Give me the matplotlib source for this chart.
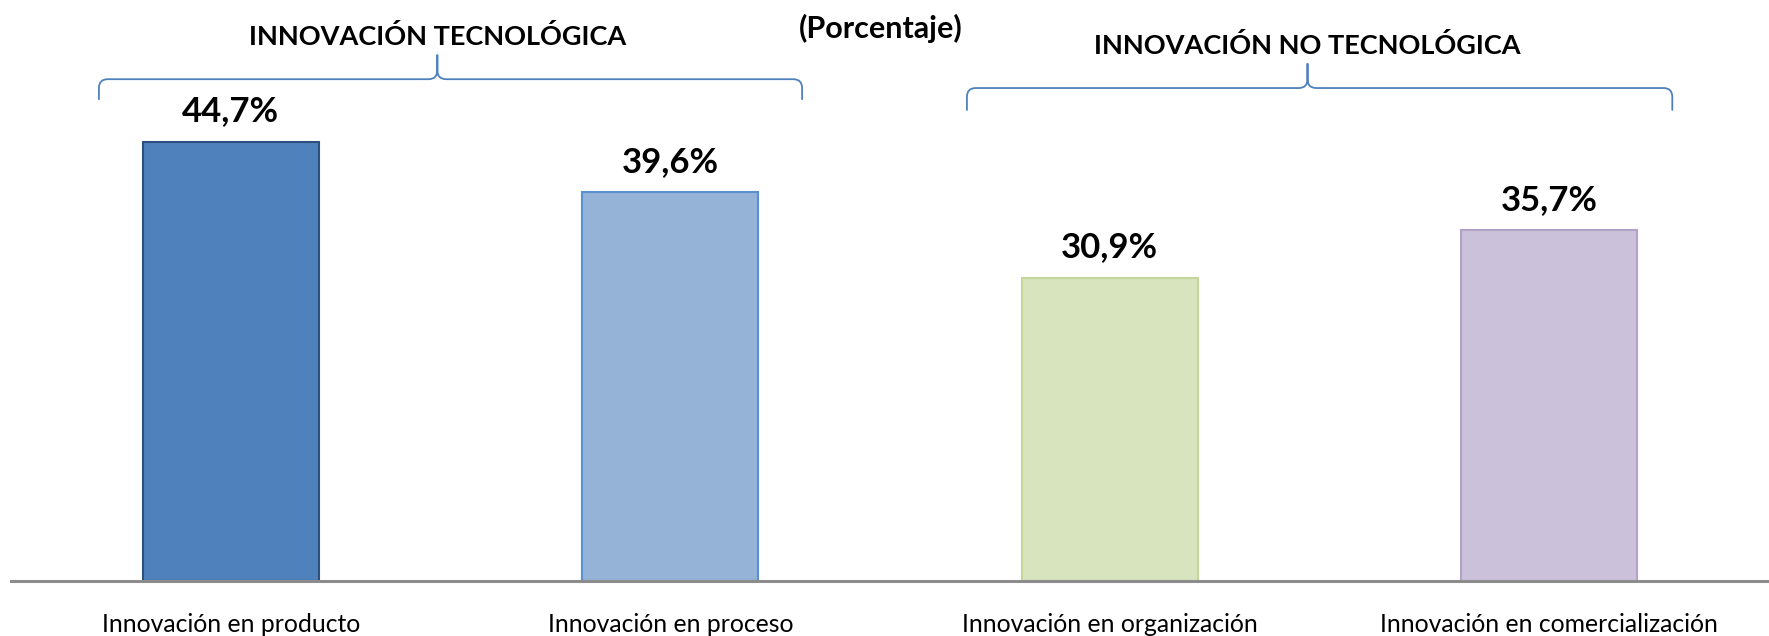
import numpy as np
import matplotlib
matplotlib.use("Agg")
import matplotlib.pyplot as plt
from matplotlib.path import Path
from matplotlib.patches import PathPatch

plt.rcParams['font.family'] = ['Lato', 'DejaVu Sans']

categorias = ["Innovación en producto", "Innovación en proceso",
              "Innovación en organización", "Innovación en comercialización"]
valores = [44.7, 39.6, 30.9, 35.7]
etiquetas = ["44,7%", "39,6%", "30,9%", "35,7%"]
relleno = ["#4F81BD", "#95B3D7", "#D7E4BD", "#CCC1DA"]
borde = ["#2C5080", "#5B8FD0", "#C3D69B", "#B3A2C7"]

grupos = ["INNOVACIÓN TECNOLÓGICA", "INNOVACIÓN NO TECNOLÓGICA"]

W, H = 1769, 636
fig = plt.figure(figsize=(W / 100, H / 100), dpi=100)
base = 581
escala = 9.82  # px per percentage point
ax = fig.add_axes([11 / W, (H - base) / H, 1 - 11 / W, base / H])
ax.set_xlim(-0.5, 3.5)
ax.set_ylim(0, base / escala)

x = np.arange(len(categorias))
ax.bar(x, valores, width=0.4, color=relleno, edgecolor=borde, linewidth=1.5, zorder=2)

for xi, v, t in zip(x, valores, etiquetas):
    ax.annotate(t, (xi, v), xytext=(0, 22), textcoords="offset points",
                ha="center", va="center", fontsize=25, fontweight="bold")

for s in ["top", "right", "left"]:
    ax.spines[s].set_visible(False)
ax.spines["bottom"].set_color("#8C8C8C")
ax.spines["bottom"].set_linewidth(2.2)
ax.set_yticks([])
ax.set_xticks(x)
ax.set_xticklabels(categorias, fontsize=17.8)
ax.tick_params(axis="x", length=0, pad=23)


def llave(ax, x0, x1, xm, y_fin, y_med, y_pico, rx=0.02, ry=0.9):
    verts = [(x0, y_fin), (x0, y_med - ry), (x0, y_med), (x0 + rx, y_med),
             (xm - rx, y_med), (xm, y_med), (xm, y_med + ry), (xm, y_pico),
             (xm, y_med + ry), (xm, y_med), (xm + rx, y_med),
             (x1 - rx, y_med), (x1, y_med), (x1, y_med - ry), (x1, y_fin)]
    codes = [Path.MOVETO, Path.LINETO, Path.CURVE3, Path.CURVE3,
             Path.LINETO, Path.CURVE3, Path.CURVE3, Path.LINETO,
             Path.LINETO, Path.CURVE3, Path.CURVE3,
             Path.LINETO, Path.CURVE3, Path.CURVE3, Path.LINETO]
    ax.add_patch(PathPatch(Path(verts, codes), fill=False, edgecolor="#4F81BD",
                           linewidth=1.3, clip_on=False))


llave(ax, -0.30, 1.30, 0.47, 49.0, 51.1, 53.6)
llave(ax, 1.675, 3.28, 2.45, 47.9, 50.2, 52.7)

ax.text(0.47, (base - 37) / escala, grupos[0], ha="center", va="center",
        fontsize=19.5, fontweight="bold")
ax.text(2.45, (base - 46) / escala, grupos[1], ha="center", va="center",
        fontsize=19.5, fontweight="bold")
ax.text(1.48, (base - 28) / escala, "(Porcentaje)", ha="center", va="center",
        fontsize=22, fontweight="bold")

fig.savefig("out.png", dpi=100)
